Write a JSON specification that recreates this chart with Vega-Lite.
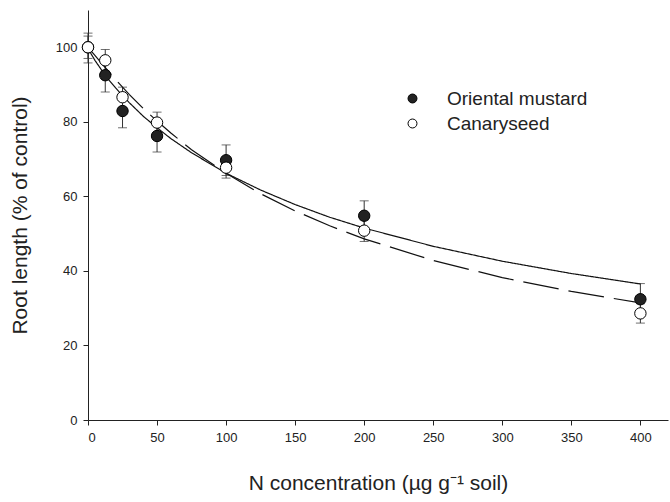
{
  "$schema": "https://vega.github.io/schema/vega-lite/v6.json",
  "width": 580,
  "height": 410,
  "autosize": "none",
  "padding": {"left": 88, "top": 10, "right": 2, "bottom": 82},
  "background": "white",
  "config": {
    "view": {"stroke": null},
    "font": "Liberation Sans",
    "axis": {
      "grid": false,
      "domainColor": "#222",
      "tickColor": "#222",
      "labelColor": "#222",
      "titleColor": "#222",
      "labelFont": "Liberation Sans",
      "titleFont": "Liberation Sans",
      "labelFontSize": 13,
      "titleFontSize": 21,
      "titleFontWeight": "normal",
      "tickSize": 5
    }
  },
  "datasets": {
    "obs": [
      {"species": "Oriental mustard", "n": 0, "root": 100, "lo": 97, "hi": 103},
      {"species": "Oriental mustard", "n": 12.5, "root": 92.5, "lo": 88, "hi": 96.5},
      {"species": "Oriental mustard", "n": 25, "root": 82.9, "lo": 78.4, "hi": 87.4},
      {"species": "Oriental mustard", "n": 50, "root": 76.2, "lo": 71.9, "hi": 80.5},
      {"species": "Oriental mustard", "n": 100, "root": 69.7, "lo": 65.6, "hi": 73.8},
      {"species": "Oriental mustard", "n": 200, "root": 54.8, "lo": 50.8, "hi": 58.8},
      {"species": "Oriental mustard", "n": 400, "root": 32.4, "lo": 28.2, "hi": 36.6},
      {"species": "Canaryseed", "n": 0, "root": 100, "lo": 95.8, "hi": 103.8},
      {"species": "Canaryseed", "n": 12.5, "root": 96.5, "lo": 93.6, "hi": 99.4},
      {"species": "Canaryseed", "n": 25, "root": 86.6, "lo": 83.9, "hi": 89.3},
      {"species": "Canaryseed", "n": 50, "root": 79.8, "lo": 77.0, "hi": 82.6},
      {"species": "Canaryseed", "n": 100, "root": 67.7, "lo": 64.9, "hi": 70.5},
      {"species": "Canaryseed", "n": 200, "root": 50.8, "lo": 47.9, "hi": 53.7},
      {"species": "Canaryseed", "n": 400, "root": 28.6, "lo": 26.0, "hi": 31.2}
    ],
    "fit": [
      {"curve": "mustard fit", "n": 0, "root": 100},
      {"curve": "mustard fit", "n": 2, "root": 98.4},
      {"curve": "mustard fit", "n": 5, "root": 96.5},
      {"curve": "mustard fit", "n": 10, "root": 93.8},
      {"curve": "mustard fit", "n": 15, "root": 91.3},
      {"curve": "mustard fit", "n": 20, "root": 89.1},
      {"curve": "mustard fit", "n": 25, "root": 87.0},
      {"curve": "mustard fit", "n": 30, "root": 85.1},
      {"curve": "mustard fit", "n": 40, "root": 81.5},
      {"curve": "mustard fit", "n": 50, "root": 78.4},
      {"curve": "mustard fit", "n": 60, "root": 75.5},
      {"curve": "mustard fit", "n": 75, "root": 71.7},
      {"curve": "mustard fit", "n": 100, "root": 66.2},
      {"curve": "mustard fit", "n": 125, "root": 61.7},
      {"curve": "mustard fit", "n": 150, "root": 57.8},
      {"curve": "mustard fit", "n": 175, "root": 54.4},
      {"curve": "mustard fit", "n": 200, "root": 51.5},
      {"curve": "mustard fit", "n": 250, "root": 46.6},
      {"curve": "mustard fit", "n": 300, "root": 42.6},
      {"curve": "mustard fit", "n": 350, "root": 39.3},
      {"curve": "mustard fit", "n": 400, "root": 36.5},
      {"curve": "canaryseed fit", "n": 0, "root": 100},
      {"curve": "canaryseed fit", "n": 5, "root": 97.8},
      {"curve": "canaryseed fit", "n": 10, "root": 95.6},
      {"curve": "canaryseed fit", "n": 15, "root": 93.5},
      {"curve": "canaryseed fit", "n": 20, "root": 91.3},
      {"curve": "canaryseed fit", "n": 25, "root": 89.3},
      {"curve": "canaryseed fit", "n": 30, "root": 87.3},
      {"curve": "canaryseed fit", "n": 40, "root": 83.6},
      {"curve": "canaryseed fit", "n": 50, "root": 80.2},
      {"curve": "canaryseed fit", "n": 60, "root": 77.0},
      {"curve": "canaryseed fit", "n": 75, "root": 72.5},
      {"curve": "canaryseed fit", "n": 100, "root": 66.2},
      {"curve": "canaryseed fit", "n": 125, "root": 60.7},
      {"curve": "canaryseed fit", "n": 150, "root": 56.1},
      {"curve": "canaryseed fit", "n": 175, "root": 52.1},
      {"curve": "canaryseed fit", "n": 200, "root": 48.6},
      {"curve": "canaryseed fit", "n": 250, "root": 42.8},
      {"curve": "canaryseed fit", "n": 300, "root": 38.2},
      {"curve": "canaryseed fit", "n": 350, "root": 34.5},
      {"curve": "canaryseed fit", "n": 400, "root": 31.4}
    ]
  },
  "encoding": {
    "x": {
      "field": "n",
      "type": "quantitative",
      "scale": {"domain": [0, 420], "nice": false, "zero": true},
      "axis": {
        "values": [0, 50, 100, 150, 200, 250, 300, 350, 400],
        "title": "N concentration (µg g⁻¹ soil)",
        "labelPadding": 6,
        "titlePadding": 28
      }
    }
  },
  "layer": [
    {
      "data": {"name": "obs"},
      "mark": {"type": "rule", "color": "#333", "strokeWidth": 1},
      "encoding": {
        "y": {"field": "lo", "type": "quantitative"},
        "y2": {"field": "hi"}
      }
    },
    {
      "data": {"name": "obs"},
      "mark": {"type": "tick", "orient": "horizontal", "color": "#333", "size": 9, "thickness": 1},
      "encoding": {
        "y": {"field": "lo", "type": "quantitative"}
      }
    },
    {
      "data": {"name": "obs"},
      "mark": {"type": "tick", "orient": "horizontal", "color": "#333", "size": 9, "thickness": 1},
      "encoding": {
        "y": {"field": "hi", "type": "quantitative"}
      }
    },
    {
      "data": {"name": "fit"},
      "mark": {"type": "line", "color": "#111", "strokeWidth": 1.2},
      "encoding": {
        "y": {"field": "root", "type": "quantitative"},
        "detail": {"field": "curve"},
        "strokeDash": {
          "field": "curve",
          "type": "nominal",
          "scale": {"domain": ["mustard fit", "canaryseed fit"], "range": [[1, 0], [36, 10]]},
          "legend": null
        }
      }
    },
    {
      "data": {"name": "obs"},
      "mark": {"type": "point", "filled": true, "shape": "circle", "size": 130, "stroke": "#000", "strokeWidth": 1, "opacity": 1},
      "encoding": {
        "y": {
          "field": "root",
          "type": "quantitative",
          "scale": {"domain": [0, 110], "nice": false},
          "axis": {
            "values": [0, 20, 40, 60, 80, 100],
            "title": "Root length (% of control)",
            "labelPadding": 6,
            "titlePadding": 25
          }
        },
        "fill": {
          "field": "species",
          "type": "nominal",
          "scale": {"domain": ["Oriental mustard", "Canaryseed"], "range": ["#222222", "#ffffff"]},
          "legend": {
            "title": null,
            "orient": "none",
            "legendX": 315,
            "legendY": 79,
            "padding": 0,
            "labelFontSize": 19,
            "labelFont": "Liberation Sans",
            "labelColor": "#222",
            "labelOffset": 25,
            "rowPadding": 5,
            "symbolSize": 80,
            "symbolType": "circle",
            "symbolStrokeColor": "#000",
            "symbolStrokeWidth": 1
          }
        },
        "order": {"field": "species", "sort": "descending"}
      }
    }
  ]
}
